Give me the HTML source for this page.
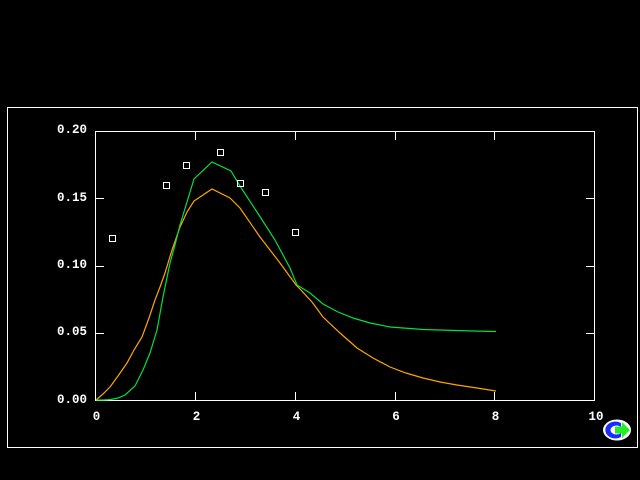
<!DOCTYPE html>
<html>
<head>
<meta charset="utf-8">
<style>
  html,body{margin:0;padding:0;background:#000;}
  body{width:640px;height:480px;overflow:hidden;}
  svg{display:block;}
  text{font-family:"Liberation Mono",monospace;font-weight:bold;font-size:12.5px;fill:#fff;}
</style>
</head>
<body>
<svg width="640" height="480" viewBox="0 0 640 480" xmlns="http://www.w3.org/2000/svg">
  <rect x="0" y="0" width="640" height="480" fill="#000"/>
  <!-- outer frame -->
  <rect x="7.5" y="107.5" width="630" height="340" fill="none" stroke="#fff" stroke-width="1" shape-rendering="crispEdges"/>
  <!-- plot frame -->
  <rect x="95.5" y="131.5" width="499" height="269" fill="none" stroke="#fff" stroke-width="1" shape-rendering="crispEdges"/>
  <g stroke="#fff" stroke-width="1" shape-rendering="crispEdges">
    <!-- bottom ticks -->
    <line x1="195.5" y1="392" x2="195.5" y2="400"/>
    <line x1="295.5" y1="392" x2="295.5" y2="400"/>
    <line x1="395.5" y1="392" x2="395.5" y2="400"/>
    <line x1="494.5" y1="392" x2="494.5" y2="400"/>
    <!-- top ticks -->
    <line x1="195.5" y1="132" x2="195.5" y2="140"/>
    <line x1="295.5" y1="132" x2="295.5" y2="140"/>
    <line x1="395.5" y1="132" x2="395.5" y2="140"/>
    <line x1="494.5" y1="132" x2="494.5" y2="140"/>
    <!-- left ticks -->
    <line x1="96" y1="198.5" x2="104" y2="198.5"/>
    <line x1="96" y1="266.5" x2="104" y2="266.5"/>
    <line x1="96" y1="333.5" x2="104" y2="333.5"/>
    <!-- right ticks -->
    <line x1="586" y1="198.5" x2="594" y2="198.5"/>
    <line x1="586" y1="266.5" x2="594" y2="266.5"/>
    <line x1="586" y1="333.5" x2="594" y2="333.5"/>
  </g>
  <!-- y labels -->
  <g text-anchor="end">
    <text x="87" y="133">0.20</text>
    <text x="87" y="201">0.15</text>
    <text x="87" y="268">0.10</text>
    <text x="87" y="335">0.05</text>
    <text x="87" y="403">0.00</text>
  </g>
  <!-- x labels -->
  <g text-anchor="middle">
    <text x="96.5" y="420">0</text>
    <text x="196.5" y="420">2</text>
    <text x="296.5" y="420">4</text>
    <text x="396" y="420">6</text>
    <text x="495.5" y="420">8</text>
    <text x="596" y="420">10</text>
  </g>
  <!-- orange curve -->
  <polyline fill="none" stroke="#ffa500" stroke-width="1.2" points="96,400 103,394 110,387 118,376 127,363 134,350 142,337 149,318 155,300 160,287 165,273 172,250 180,227 187,212 194,201 212,189 230,198 240,208 260,237 280,263 296,285 300,289 312,302 323,317 340,333 357,348 373,358 390,367 406,373 423,378 440,382 457,385 477,388 496,391"/>
  <!-- green curve -->
  <polyline fill="none" stroke="#00e040" stroke-width="1.2" points="96,400 103,400 111,399.5 118,398 125,395 135,386 143,370 150,353 157,330 163,297 170,263 175,245 180,225 194,179 212,162 231,171 240,186 257,212 275,240 290,268 297,285 310,293 323,304 338,312 353,318 370,323 390,327 423,329.5 473,331 496,331.5"/>
  <!-- data squares -->
  <g fill="none" stroke="#fff" stroke-width="1" shape-rendering="crispEdges">
    <rect x="109.5" y="235.5" width="6" height="6"/>
    <rect x="163.5" y="182.5" width="6" height="6"/>
    <rect x="183.5" y="162.5" width="6" height="6"/>
    <rect x="217.5" y="149.5" width="6" height="6"/>
    <rect x="237.5" y="180.5" width="6" height="6"/>
    <rect x="262.5" y="189.5" width="6" height="6"/>
    <rect x="292.5" y="229.5" width="6" height="6"/>
  </g>
  <!-- logo -->
  <g transform="translate(617,430)">
    <ellipse cx="0" cy="0" rx="14" ry="10.5" fill="#fff"/>
    <path d="M 4,-7 A 10,8.5 0 1 0 4,7 L 4,3 A 6,4.5 0 1 1 4,-3 Z" fill="#1a2cff"/>
    <path d="M -2,-3.5 L 5,-3.5 L 5,-8 L 13,0 L 5,8 L 5,3.5 L -2,3.5 Z" fill="#22ee22"/>
  </g>
</svg>
</body>
</html>
